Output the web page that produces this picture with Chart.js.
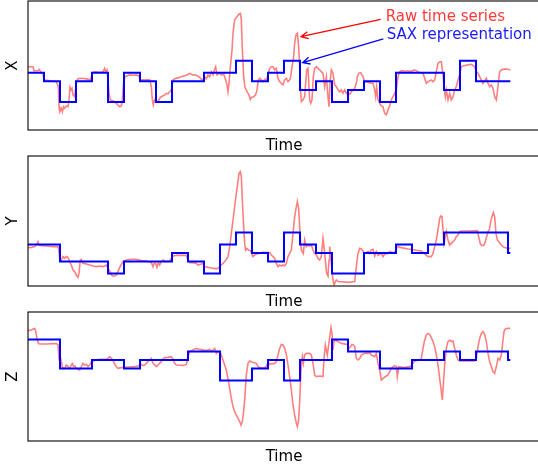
<!DOCTYPE html>
<html><head><meta charset="utf-8">
<script src="https://cdn.jsdelivr.net/npm/chart.js@4/dist/chart.umd.min.js"></script>
<style>
html,body{margin:0;padding:0;overflow:hidden;background:#fff;width:538px;height:465px;}
.panel{position:absolute;left:0;width:545px;height:155px;}
</style></head><body>
<div class="panel" style="top:0px"><canvas id="cX"></canvas></div>
<div class="panel" style="top:155px"><canvas id="cY"></canvas></div>
<div class="panel" style="top:310px"><canvas id="cZ"></canvas></div>
<script>
// ---- data ----
const segmentLength = 48;
const timeAxisMax = 1536;
const seriesLength = 1447;
const saxAlphabet = ['a', 'b', 'c', 'd', 'e'];
const saxLevels = [-1.03, -0.43, 0, 0.43, 1.03];
const panelLabels = ['X', 'Y', 'Z'];
const xAxisLabel = 'Time';

const xTime = [0,15,18,30,33,40,45,48,65,85,91,93,95,100,103,107,110,115,120,123,126,129,132,135,140,145,150,160,175,187,190,193,200,215,225,230,233,237,240,243,247,255,265,270,275,280,283,287,290,295,305,315,325,333,337,345,365,370,373,376,380,385,390,395,400,410,415,420,425,430,435,440,450,460,475,485,495,505,515,520,525,530,535,540,545,550,555,560,563,567,575,580,587,593,597,600,603,607,612,615,620,627,633,637,640,643,647,651,657,663,667,671,677,683,687,691,695,700,705,710,715,720,725,730,735,740,745,750,755,760,765,770,775,780,785,788,792,796,800,804,808,812,815,817,820,825,830,833,836,840,845,848,852,856,860,865,870,875,880,885,890,895,900,903,906,910,915,920,925,930,935,940,945,950,955,960,965,970,975,980,985,988,992,998,1005,1010,1020,1030,1035,1040,1043,1046,1050,1055,1060,1065,1070,1075,1080,1085,1090,1095,1100,1105,1110,1115,1120,1130,1140,1150,1160,1170,1180,1185,1190,1195,1200,1210,1215,1220,1225,1230,1235,1240,1245,1248,1252,1255,1260,1265,1270,1275,1280,1285,1290,1295,1300,1305,1320,1330,1340,1345,1350,1355,1360,1365,1370,1375,1380,1385,1390,1395,1400,1405,1410,1415,1420,1430,1440,1447];
const xValues = [0.73,0.73,0.53,0.53,0.60,0.43,0.37,0.07,0.03,-0.02,-0.27,-1.27,-1.52,-1.35,-1.52,-1.27,-1.35,-1.23,-1.27,-0.93,-0.30,-0.43,-0.35,-0.68,-0.77,-0.02,0.13,0.15,0.12,0.07,0.23,0.43,0.47,0.45,0.47,0.65,0.48,0.57,0.07,-0.60,-0.93,-0.97,-1.10,-1.20,-1.27,-1.23,-0.93,-0.02,0.20,0.27,0.32,0.30,0.32,0.27,0.07,0.07,0.07,-0.27,-0.93,-1.18,-0.93,-1.02,-1.02,-0.85,-0.77,-0.68,-0.60,-0.63,-0.52,-0.43,0.07,0.13,0.17,0.23,0.30,0.40,0.32,0.30,0.20,0.10,0.07,0.23,0.13,0.32,0.23,0.48,0.32,0.60,0.73,0.32,0.43,0.32,0.37,0.07,-0.18,-0.52,-0.10,0.73,1.57,2.40,3.07,3.23,3.37,3.40,3.07,1.57,0.23,-0.30,-0.52,-0.68,-0.90,-0.80,-0.77,-0.68,-0.43,0.07,0.15,0.07,-0.02,0.10,0.07,0.32,0.65,0.73,0.73,0.57,0.65,0.15,-0.02,-0.10,-0.18,0.07,0.15,-0.02,0.07,0.23,0.73,1.07,1.90,2.32,2.40,1.73,0.73,-0.27,-1.02,-0.93,-0.77,-0.10,0.57,0.65,-0.93,-1.10,-0.93,0.23,0.65,0.73,0.65,0.57,0.48,0.40,-0.27,0.23,-0.77,-1.27,-0.10,0.57,0.40,-0.18,-0.27,-0.43,-0.52,-0.43,-0.60,-0.43,-0.60,-0.68,-0.65,-0.52,-0.43,-0.35,-0.10,0.23,0.40,0.43,0.23,-0.02,-0.05,-0.10,-0.10,-0.43,-0.77,-0.27,-0.93,-1.10,-1.23,-1.27,-1.60,-1.68,-1.43,-1.23,-0.93,-0.77,-0.60,-0.43,0.23,0.48,0.53,0.50,0.53,0.50,0.57,0.48,0.40,0.40,0.15,-0.10,-0.02,0.07,-0.02,0.07,0.48,0.90,0.98,0.98,0.32,-0.27,-0.77,-0.43,-0.93,-0.60,-0.93,-0.77,-0.43,-0.27,0.07,0.32,0.73,0.77,0.82,0.85,0.73,0.48,0.40,0.23,0.07,-0.10,0.03,0.15,-0.10,-0.27,-0.18,-0.35,-0.77,-0.93,-0.27,0.48,0.57,0.62,0.60,0.57];
const xSax = 'dcacdadcaccddecdebcabcadddbeccc';

const yTime = [0,10,20,25,30,33,40,55,75,90,93,95,100,105,110,115,120,125,130,135,140,145,150,153,157,160,165,175,185,195,205,215,225,235,240,245,250,255,260,265,270,275,285,295,310,325,340,355,370,375,378,383,387,391,395,400,405,415,425,430,435,445,475,480,485,495,505,510,520,525,530,540,550,560,570,575,580,585,590,595,600,605,610,615,620,625,630,633,637,640,643,647,650,653,657,661,667,671,675,680,690,705,725,730,735,740,745,750,755,760,765,770,775,780,785,790,795,800,805,808,812,815,818,820,826,830,835,840,845,850,855,860,865,870,875,880,885,888,892,896,900,903,905,908,912,915,918,922,925,930,960,980,985,990,995,1000,1010,1020,1025,1030,1035,1040,1045,1050,1060,1065,1070,1080,1085,1095,1100,1105,1110,1120,1140,1160,1180,1190,1200,1210,1215,1220,1225,1230,1235,1238,1242,1245,1248,1252,1255,1260,1265,1270,1280,1285,1290,1295,1300,1320,1348,1352,1357,1362,1368,1372,1376,1380,1384,1388,1392,1396,1400,1404,1408,1412,1416,1420,1425,1430,1440,1447];
const yValues = [0.27,0.28,0.32,0.40,0.57,0.40,0.37,0.35,0.32,0.32,0.07,-0.27,-0.35,-0.18,-0.27,-0.18,-0.22,-0.43,-0.60,-0.85,-0.93,-1.10,-1.22,-1.02,-0.35,-0.32,-0.52,-0.55,-0.60,-0.65,-0.68,-0.65,-0.68,-0.60,-0.77,-0.88,-1.10,-1.15,-1.15,-1.10,-0.93,-0.72,-0.43,-0.35,-0.32,-0.32,-0.38,-0.40,-0.48,-0.68,-0.52,-0.52,-0.72,-0.48,-0.60,-0.43,-0.35,-0.43,-0.40,-0.27,-0.15,-0.12,-0.12,-0.35,-0.48,-0.48,-0.52,-0.60,-0.55,-0.52,-0.68,-0.72,-0.75,-0.78,-0.77,-0.68,-0.60,-0.52,-0.43,-0.32,-0.18,0.32,0.98,1.65,2.32,2.98,3.57,3.98,4.07,3.82,2.65,1.32,0.48,0.15,0.23,0.15,0.12,-0.02,-0.18,-0.10,-0.02,0.03,0.02,-0.10,-0.18,-0.27,-0.52,-0.68,-0.60,-0.65,-0.60,-0.65,-0.52,-0.18,-0.02,0.15,0.98,1.82,2.32,2.57,2.23,1.32,0.48,0.15,-0.02,0.65,0.32,0.40,0.35,0.40,0.15,-0.02,-0.10,-0.27,-0.35,-0.18,0.73,0.32,-0.35,-1.02,-1.15,-0.35,0.32,-0.18,-0.85,-1.35,-1.60,-1.43,-1.35,-1.43,-1.47,-1.43,-0.68,-0.02,0.23,0.20,-0.02,0.07,-0.02,0.15,0.18,-0.15,0.07,-0.12,-0.02,-0.18,-0.05,-0.02,0.07,0.02,0.02,0.23,0.32,0.27,0.20,0.15,0.10,-0.05,-0.18,-0.18,-0.02,0.32,0.65,1.15,1.73,1.85,1.82,1.15,0.48,0.82,1.07,0.65,0.40,0.48,0.65,0.82,0.90,1.07,1.10,1.10,1.12,0.82,0.45,0.37,0.40,0.57,0.82,1.07,1.15,1.57,1.82,2.02,1.82,0.98,0.65,0.57,0.48,0.40,0.32,0.27,0.23,0.23];
const ySax = 'ddbbbabbbcbadecbedcaaccdcdeeeec';

const zTime = [0,10,15,20,23,27,31,35,55,75,85,90,93,96,99,103,107,111,115,120,125,130,133,137,141,145,155,160,165,170,175,180,185,190,195,205,215,235,240,245,250,255,260,265,270,280,300,320,330,335,340,345,350,355,360,365,370,375,380,385,390,395,400,405,410,420,430,435,440,445,465,475,480,485,495,505,515,535,545,550,555,560,565,570,575,580,585,590,595,600,605,610,615,620,625,630,635,639,643,647,651,655,660,665,675,685,690,695,705,715,720,725,730,740,745,750,755,760,765,770,775,780,785,790,795,800,805,808,812,815,818,820,823,826,830,835,845,850,855,860,865,875,885,888,892,895,898,902,906,909,912,915,918,923,930,940,958,963,968,972,976,980,985,990,995,1000,1010,1020,1025,1030,1040,1045,1050,1055,1060,1065,1075,1080,1085,1090,1095,1100,1105,1108,1112,1130,1150,1155,1160,1175,1180,1185,1190,1195,1200,1205,1210,1215,1220,1225,1230,1235,1240,1243,1246,1250,1255,1260,1265,1270,1275,1280,1285,1290,1295,1340,1345,1350,1355,1360,1365,1370,1375,1380,1385,1390,1395,1400,1405,1410,1415,1420,1425,1428,1432,1440,1447];
const zValues = [1.47,1.50,1.55,1.58,1.45,1.08,0.83,0.80,0.80,0.82,0.82,0.75,0.08,-0.17,0.00,-0.33,-0.45,-0.42,-0.25,-0.33,-0.42,-0.25,-0.17,-0.33,-0.30,-0.42,-0.50,-0.33,-0.17,-0.25,-0.22,-0.33,-0.25,-0.08,-0.05,0.00,0.03,0.05,0.08,0.17,0.08,0.00,-0.22,-0.33,-0.42,-0.38,-0.35,-0.33,-0.30,-0.25,-0.22,-0.28,-0.25,-0.17,-0.05,0.00,0.08,-0.17,-0.25,-0.33,-0.25,-0.17,-0.08,0.05,0.12,0.13,0.17,0.05,-0.17,-0.25,-0.27,-0.22,0.17,0.42,0.50,0.58,0.53,0.47,0.53,0.42,0.50,0.58,0.33,0.42,0.42,0.25,0.00,-0.25,-0.50,-0.92,-1.42,-1.92,-2.33,-2.58,-2.75,-2.92,-3.08,-3.25,-3.08,-2.58,-1.75,-0.75,-0.17,-0.05,-0.12,-0.17,-0.33,-0.38,-0.42,-0.33,-0.08,-0.22,-0.18,-0.18,-0.08,0.25,0.58,0.78,0.75,0.58,0.28,-0.25,-0.83,-1.50,-2.25,-2.75,-3.17,-3.33,-3.00,-2.08,-0.83,-0.25,0.17,-0.17,0.25,0.33,0.33,0.25,-0.17,-0.75,-0.83,-0.80,-0.83,0.08,0.75,0.50,0.25,0.75,1.25,1.62,1.33,0.50,0.92,1.00,0.92,0.83,0.78,0.58,0.67,0.78,0.75,0.67,0.08,0.00,0.08,0.25,0.33,0.33,0.37,0.25,0.17,0.33,-0.17,-0.50,-1.00,-0.92,-0.80,-0.75,-0.58,-0.42,-0.33,-0.28,-0.33,-0.83,-0.33,-0.38,-0.30,-0.17,-0.05,0.00,0.08,0.58,1.00,1.25,1.33,1.28,1.12,0.92,0.67,0.25,-0.25,-0.92,-1.58,-2.00,-1.25,-0.25,0.58,0.92,1.00,0.92,0.95,0.58,0.25,0.00,-0.05,-0.05,0.08,0.67,1.08,1.33,1.42,1.28,0.92,0.33,-0.08,-0.33,-0.58,-0.67,-0.33,0.08,0.00,0.25,1.00,1.42,1.55,1.58,1.58];
const zSax = 'eebbccbcccddaabcacceddbbccdcddc';

const rawLabel = 'Raw time series';
const saxLabel = 'SAX representation';

// ---- helpers ----
function rawPoints(times, values) {
  return times.map((t, i) => ({ x: t, y: values[i] }));
}
function saxPoints(word) {
  const pts = [];
  for (let k = 0; k < word.length; k++) {
    pts.push({ x: k * segmentLength, y: saxLevels[saxAlphabet.indexOf(word[k])] });
  }
  pts.push({ x: seriesLength, y: saxLevels[saxAlphabet.indexOf(word[word.length - 1])] });
  return pts;
}

const FONT = '15px "DejaVu Sans", sans-serif';

const framePlugin = {
  id: 'frameLabels',
  afterDraw(chart, args, opts) {
    const { ctx, chartArea: a } = chart;
    ctx.save();
    ctx.strokeStyle = '#000';
    ctx.lineWidth = 1.1;
    ctx.strokeRect(a.left, a.top, a.right - a.left, a.bottom - a.top);
    ctx.fillStyle = '#000';
    ctx.font = FONT;
    ctx.textAlign = 'center';
    ctx.textBaseline = 'alphabetic';
    ctx.fillText(opts.xTitle, (a.left + a.right) / 2, a.bottom + 20);
    ctx.translate(17, (a.top + a.bottom) / 2);
    ctx.rotate(-Math.PI / 2);
    ctx.fillText(opts.yTitle, 0, 0);
    ctx.restore();
  }
};

const annotatePlugin = {
  id: 'annotateArrows',
  afterDatasetsDraw(chart, args, opts) {
    if (!opts.items) return;
    const { ctx } = chart;
    const xs = chart.scales.x, ys = chart.scales.y;
    ctx.save();
    opts.items.forEach(it => {
      const fx = xs.getPixelForValue(it.from[0]), fy = ys.getPixelForValue(it.from[1]);
      const tx = xs.getPixelForValue(it.to[0]), ty = ys.getPixelForValue(it.to[1]);
      ctx.strokeStyle = it.color;
      ctx.lineWidth = 1.3;
      ctx.beginPath();
      ctx.moveTo(fx, fy);
      ctx.lineTo(tx, ty);
      const ang = Math.atan2(ty - fy, tx - fx);
      const L = 8, W = 0.45;
      ctx.moveTo(tx - L * Math.cos(ang - W), ty - L * Math.sin(ang - W));
      ctx.lineTo(tx, ty);
      ctx.lineTo(tx - L * Math.cos(ang + W), ty - L * Math.sin(ang + W));
      ctx.stroke();
      ctx.fillStyle = it.textColor;
      ctx.font = FONT;
      ctx.textAlign = 'left';
      ctx.textBaseline = 'alphabetic';
      ctx.fillText(it.text, xs.getPixelForValue(it.at[0]), ys.getPixelForValue(it.at[1]));
    });
    ctx.restore();
  }
};

function makePanel(id, label, times, values, word, yMin, yMax, pad, annotations) {
  new Chart(document.getElementById(id), {
    type: 'line',
    data: {
      datasets: [
        { label: saxLabel, data: saxPoints(word), borderColor: '#0000ff', borderWidth: 2,
          stepped: true, pointRadius: 0, fill: false, order: 0 },
        { label: rawLabel, data: rawPoints(times, values), borderColor: 'rgba(255,0,0,0.5)',
          borderWidth: 1.6, tension: 0, pointRadius: 0, fill: false, order: 1 }
      ]
    },
    options: {
      responsive: true,
      maintainAspectRatio: false,
      animation: false,
      events: [],
      layout: { padding: pad },
      scales: {
        x: { type: 'linear', min: 0, max: timeAxisMax, display: false },
        y: { type: 'linear', min: yMin, max: yMax, display: false }
      },
      plugins: {
        legend: { display: false },
        tooltip: { enabled: false },
        frameLabels: { xTitle: xAxisLabel, yTitle: label },
        annotateArrows: { items: annotations }
      }
    },
    plugins: [framePlugin, annotatePlugin]
  });
}

makePanel('cX', panelLabels[0], xTime, xValues, xSax, -2.435, 4.015,
  { left: 28, right: 5, top: 1, bottom: 25 },
  [
    { text: rawLabel, color: '#ff0000', textColor: '#ff3a3a', at: [1073, 3.03], from: [1058, 3.1], to: [819, 2.23] },
    { text: saxLabel, color: '#0000ff', textColor: '#1a1aff', at: [1076, 2.13], from: [1066, 2.12], to: [824, 0.93] }
  ]);
makePanel('cY', panelLabels[1], yTime, yValues, ySax, -1.65, 4.85,
  { left: 28, right: 5, top: 1, bottom: 24 }, null);
makePanel('cZ', panelLabels[2], zTime, zValues, zSax, -4.05, 2.4,
  { left: 28, right: 5, top: 2, bottom: 24 }, null);
</script>
</body></html>
